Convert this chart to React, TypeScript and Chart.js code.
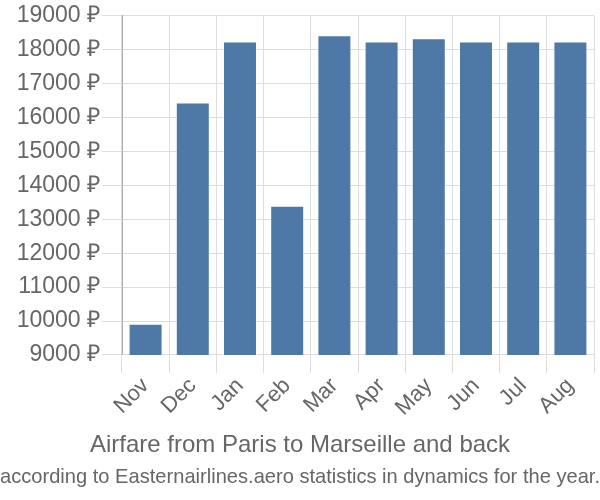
import React, { useEffect, useRef } from "react";
import { Chart, registerables } from "chart.js";

Chart.register(...registerables);

const months = ["Nov", "Dec", "Jan", "Feb", "Mar", "Apr", "May", "Jun", "Jul", "Aug"];
const prices = [9920, 16440, 18240, 13400, 18430, 18240, 18340, 18240, 18240, 18240];
const yMin = 9000;
const yMax = 19000;
const yStep = 1000;
const titleText = "Airfare from Paris to Marseille and back";
const subtitleText = "according to Easternairlines.aero statistics in dynamics for the year.";

const FONT = "'Liberation Sans', Arial, sans-serif";

export default function App() {
  const ref = useRef<HTMLCanvasElement | null>(null);

  useEffect(() => {
    if (!ref.current) return;
    const chart = new Chart(ref.current, {
      type: "bar",
      data: {
        labels: months,
        datasets: [
          {
            data: prices,
            backgroundColor: "#4e79a7",
            borderColor: "rgba(255,255,255,0.55)",
            borderWidth: 1,
          },
        ],
      },
      options: {
        animation: false,
        responsive: false,
        maintainAspectRatio: false,
        layout: { padding: { top: 5, right: 0, left: 0, bottom: 0 } },
        plugins: {
          legend: { display: false },
          tooltip: { enabled: false },
          title: {
            display: true,
            text: titleText,
            position: "bottom",
            weight: 1000,
            color: "#666",
            font: { family: FONT, size: 24, weight: "normal" },
            padding: { top: 10, bottom: 0 },
          },
          subtitle: {
            display: true,
            text: subtitleText,
            position: "bottom",
            weight: 2000,
            color: "#666",
            font: { family: FONT, size: 21, weight: "normal" },
            padding: { top: 5, bottom: 10 },
          },
        },
        scales: {
          x: {
            grid: { color: "#dddddd", tickLength: 18, offset: true },
            border: { color: "#dddddd" },
            ticks: {
              color: "#666",
              font: { family: FONT, size: 22 },
              maxRotation: 45,
              minRotation: 45,
              padding: 0,
            },
          },
          y: {
            min: yMin,
            max: yMax,
            grid: { color: "#dddddd", tickLength: 20 },
            border: { color: "#aaaaaa" },
            ticks: {
              stepSize: yStep,
              color: "#666",
              font: { family: FONT, size: 23 },
              padding: 2,
              callback: (v: any) => `${v} ₽`,
            },
            afterFit: (s: any) => {
              s.width = 122;
            },
          },
          yr: {
            position: "right",
            display: true,
            grid: { display: false },
            border: { display: false },
            ticks: { display: false },
            afterFit: (s: any) => {
              s.width = 6;
            },
          },
        },
      },
    });
    return () => chart.destroy();
  }, []);

  return (
    <div style={{ position: "fixed", left: 0, top: 0, width: 600, height: 500, background: "#fff" }}>
      <canvas ref={ref} width={600} height={500} style={{ width: 600, height: 500 }} />
    </div>
  );
}
